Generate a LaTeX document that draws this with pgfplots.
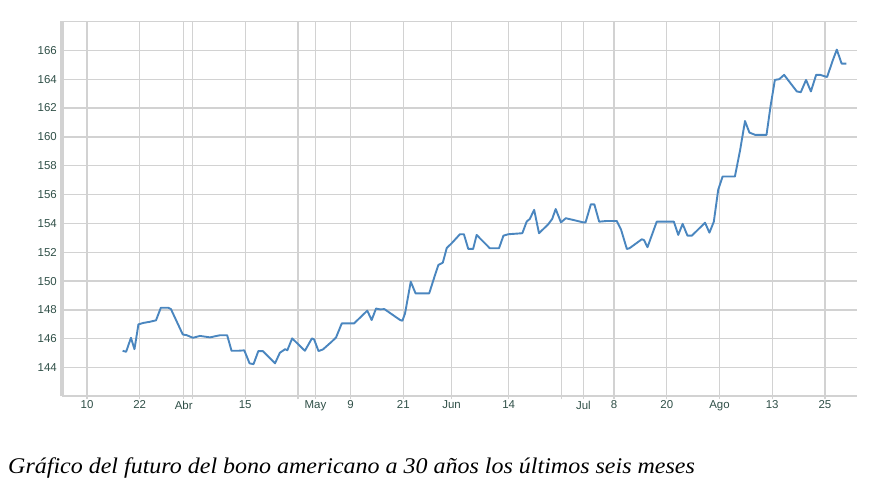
\documentclass[border=0pt]{standalone}
\usepackage{fontspec}
\setmainfont{Liberation Sans}
\newfontfamily\titlefont{Liberation Serif}
\usepackage{pgfplots}
\pgfplotsset{compat=1.18}
\definecolor{tickcol}{HTML}{2F4F47}
\definecolor{linecol}{HTML}{4A86BF}
\definecolor{gridcol}{HTML}{D2D2D2}
\begin{document}
\begin{tikzpicture}
\useasboundingbox (0,0) rectangle (878bp,493bp);
\begin{axis}[
  at={(62bp,96.5bp)}, anchor=south west,
  scale only axis, width=795bp, height=375bp,
  xmin=3.3, xmax=184.3, ymin=142, ymax=168,
  axis x line*=bottom, axis y line*=left,
  x axis line style={-, draw=gridcol, line width=2bp},
  y axis line style={-, draw=gridcol, line width=3bp},
  xtick={9,21,31,45,61,69,81,92,105,122,129,141,153,165,177},
  xticklabels={10,22,Abr,15,May,9,21,Jun,14,Jul,8,20,Ago,13,25},
  extra x ticks={33,57,117},
  extra x tick labels={},
  ytick={144,146,...,168},
  yticklabels={144,146,148,150,152,154,156,158,160,162,164,166,},
  grid=major,
  major grid style={draw=gridcol, line width=1.3bp},
  tick align=outside,
  major tick length=3bp,
  xtick style={draw=gridcol, line width=1.3bp},
  ytick style={draw=none},
  extra x tick style={grid=major, tick style={draw=gridcol, line width=1.3bp}},
  /pgf/number format/assume math mode=true,
  ticklabel style={font=\fontsize{11.5}{12}\selectfont, text=tickcol},
  xticklabel style={inner sep=1bp},
  yticklabel style={inner sep=2bp},
  clip=false,
]
\addplot[color=linecol, line width=1.9bp, line join=round] coordinates {
(17.1,145.17) (17.9,145.1) (19.0,146.07) (19.8,145.28) (20.7,147.0) (21.8,147.1)
(23.3,147.18) (24.7,147.28) (25.8,148.15) (27.5,148.15) (28.1,148.06) (30.8,146.3)
(31.7,146.25) (33.1,146.07) (34.7,146.2) (37.0,146.1) (39.3,146.25) (40.9,146.25)
(41.9,145.17) (43.4,145.17) (44.8,145.2) (46.0,144.3) (46.9,144.24) (48.0,145.15)
(49.0,145.15) (51.8,144.3) (52.9,145.03) (54.1,145.28) (54.6,145.2) (55.7,146.03)
(58.6,145.17) (60.2,146.03) (60.7,145.96) (61.7,145.15) (62.7,145.26) (64.7,145.8)
(65.7,146.1) (67.0,147.07) (69.8,147.07) (72.8,147.95) (73.8,147.3) (74.8,148.1)
(75.7,148.04) (76.7,148.06) (80.3,147.3) (80.8,147.25) (81.4,147.76) (82.7,149.96)
(83.8,149.15) (86.9,149.15) (88.1,150.3) (89.0,151.12) (90.0,151.28) (90.9,152.3)
(92.0,152.62) (93.9,153.25) (94.8,153.25) (95.8,152.23) (96.9,152.23) (97.7,153.2)
(100.7,152.28) (102.8,152.28) (103.8,153.15) (104.9,153.25) (108.1,153.32) (109.1,154.13)
(109.8,154.31) (110.8,154.94) (111.9,153.32) (114.0,153.94) (114.9,154.31) (115.7,155.0)
(116.9,154.07) (118.0,154.36) (119.7,154.24) (122.0,154.07) (122.5,154.07) (123.7,155.32)
(124.5,155.32) (125.6,154.12) (127.3,154.17) (129.6,154.17) (130.6,153.55) (131.9,152.23)
(132.5,152.28) (135.3,152.9) (135.8,152.85) (136.6,152.35) (138.7,154.12) (142.6,154.12)
(143.6,153.2) (144.6,153.97) (145.7,153.15) (146.7,153.15) (149.7,154.05) (150.7,153.36)
(151.7,154.12) (152.7,156.33) (153.7,157.25) (156.5,157.25) (157.7,159.1) (158.8,161.1)
(159.8,160.3) (161.1,160.14) (163.7,160.14) (164.6,162.1) (165.6,163.95) (166.6,164.0)
(167.7,164.3) (170.6,163.15) (171.5,163.1) (172.7,163.95) (173.8,163.15) (175.0,164.3)
(175.9,164.3) (177.5,164.15) (178.7,165.24) (179.7,166.05) (180.8,165.08) (181.9,165.08)
};
\end{axis}
\node[anchor=west, inner sep=0pt, xscale=1.07, font=\titlefont\itshape\fontsize{22.5}{24}\selectfont] at (8bp,25bp)
  {Gráfico del futuro del bono americano a 30 años los últimos seis meses};
\end{tikzpicture}
\end{document}
